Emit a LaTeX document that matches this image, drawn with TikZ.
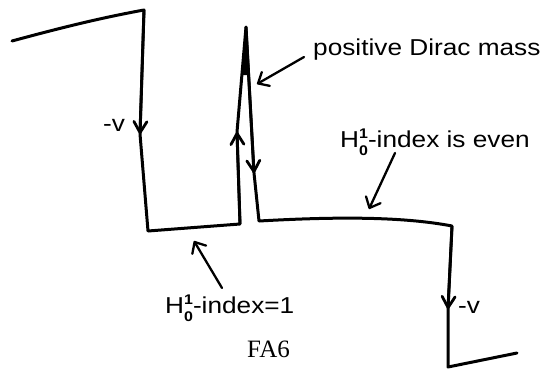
\documentclass[tikz,border=0pt]{standalone}
\usepackage{fontspec}
\setmainfont{Liberation Sans}
\newfontfamily\labfont[FakeStretch=1.14]{Liberation Sans}
\newfontfamily\capfont{Liberation Serif}
\usetikzlibrary{arrows.meta}
\newcommand{\HOneZero}{H\rlap{\raisebox{9pt}{\fontsize{14}{14}\selectfont\bfseries 1}}\raisebox{-8pt}{\fontsize{14}{14}\selectfont\bfseries 0}}
\begin{document}
\begin{tikzpicture}[x=1pt,y=-1pt,
  curve/.style={line width=3pt,line cap=round,line join=round},
  barb/.style={line width=2.8pt,-{Straight Barb[length=11pt,width=13pt,round]}},
  callout/.style={line width=2.3pt,line cap=round,-{Straight Barb[length=9pt,width=16pt,round]}},
  lbl/.style={font=\labfont\fontsize{23}{23}\selectfont,inner sep=0pt,anchor=base west},
  caption/.style={font=\capfont\fontsize{25}{25}\selectfont,inner sep=0pt,anchor=base west}]
\useasboundingbox (0,0) rectangle (540,370);
% curve points
\coordinate (p0) at (12,41);
\coordinate (p1) at (144,10);
\coordinate (a1) at (140,134);
\coordinate (p2) at (148,231);
\coordinate (p3) at (240,224);
\coordinate (a2) at (237,132);
\coordinate (p4) at (246,27);
\coordinate (a3) at (254,173);
\coordinate (p5) at (259,221);
\coordinate (p6) at (452,226);
\coordinate (a4) at (448,309);
\coordinate (p7) at (448,367);
\coordinate (p8) at (517,353);
\draw[curve] (p0) .. controls (60,28) and (100,18) .. (p1) -- (a1) -- (p2) -- (p3) -- (a2) -- (p4) -- (a3) -- (p5)
  .. controls (330,217) and (400,216) .. (p6) -- (a4) -- (p7) -- (p8);
% dark wedge at the top of the spike
\fill (241.8,75) -- (p4) -- (248.6,75) -- cycle;
% direction arrows on the curve
\draw[barb] (p1) -- (a1);
\draw[barb] (p3) -- (a2);
\draw[barb] (p4) -- (a3);
\draw[barb] (p6) -- (a4);
% labels
\node[lbl] (vleft) at (103,131) {-v};
\node[lbl] (vright) at (458,313) {-v};
\node[lbl] (dirac) at (313,55) {positive Dirac mass};
\node[lbl] (even) at (340,147) {\HOneZero-index is even};
\node[lbl] (one) at (165,313) {\HOneZero-index=1};
\node[caption] (fa) at (247,357) {FA6};
% callout arrows
\coordinate (dS) at (304,57);
\coordinate (dE) at (257,84);
\coordinate (eS) at (395,153);
\coordinate (eE) at (369,209);
\coordinate (oS) at (222,288);
\coordinate (oE) at (194,241);
\draw[callout] (dS) -- (dE);
\draw[callout] (eS) -- (eE);
\draw[callout] (oS) -- (oE);
\end{tikzpicture}
\end{document}
